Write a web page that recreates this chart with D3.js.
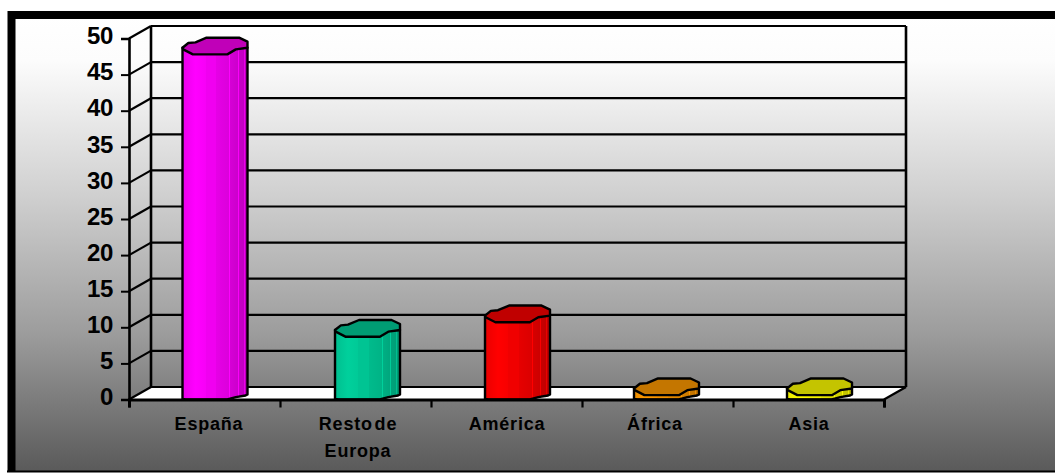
<!DOCTYPE html>
<html><head><meta charset="utf-8">
<script src="https://cdn.jsdelivr.net/npm/d3@7"></script>
<style>html,body{margin:0;padding:0;background:#fff}svg{display:block}text{font-family:"Liberation Sans",Arial,sans-serif;font-weight:bold;fill:#000}</style>
</head><body><div id="c"></div>
<script>
const categories = ["España", "Resto de|Europa", "América", "África", "Asia"];
const values = [47.8, 8.7, 10.7, 0.6, 0.6];
const sideColors = ["#ff00ff", "#00d09c", "#ff0000", "#ff9900", "#ffff00"];
const topColors = ["#c000b8", "#009c74", "#c00000", "#c47600", "#c4c400"];
const yTicks = d3.range(0, 51, 5);

const W = 1055, H = 473;
const depthX = 22, depthY = 12.5;
const barW = 65, capH = 16.7;
const labelNudge = [4.5, 2.5, 0.5, -2.5, 0.5];
const barNudge = [0, 1.5, 0.5, -1.5, 0.5];
const svg = d3.select("#c").append("svg").attr("width", W).attr("height", H);
const defs = svg.append("defs");

const bg = defs.append("linearGradient").attr("id", "bg").attr("x1", 0).attr("y1", 0).attr("x2", 0).attr("y2", 1);
[[0, "#ffffff"], [0.1, "#fcfcfc"], [0.4, "#cfcfcf"], [0.7, "#9c9c9c"], [1, "#5a5a5a"]].forEach(s =>
  bg.append("stop").attr("offset", s[0]).attr("stop-color", s[1]));

const x = d3.scaleBand().domain(categories).range([129, 884]);
const y = d3.scaleLinear().domain([0, 50]).range([399.5, 38.5]);
const back = v => y(v) - depthY;

// background + frame
svg.append("rect").attr("x", 11).attr("y", 15).attr("width", W).attr("height", 456).attr("fill", "url(#bg)");
svg.append("path").attr("d", `M${W + 5},15H11.5V471`).attr("fill", "none").attr("stroke", "#000").attr("stroke-width", 8);
svg.append("path").attr("d", `M7,471.5H${W}`).attr("fill", "none").attr("stroke", "#000").attr("stroke-width", 2);

// floor
const [x0, x1] = x.range();
svg.append("path").attr("fill", "#fff")
  .attr("d", `M${x0},${y(0)}L${x0 + depthX},${back(0)}H${x1 + depthX}L${x1},${y(0)}Z`);

// gridlines and walls
const g = svg.append("g").attr("stroke", "#000").attr("stroke-width", 2.2).attr("fill", "none");
g.selectAll("line.h").data(yTicks).join("line").attr("class", "h")
  .attr("x1", x0 + depthX).attr("x2", x1 + depthX).attr("y1", back).attr("y2", back);
g.selectAll("line.d").data(yTicks).join("line").attr("class", "d")
  .attr("x1", x0).attr("x2", x0 + depthX).attr("y1", d => y(d)).attr("y2", back);
g.append("line").attr("x1", x0 + depthX).attr("x2", x0 + depthX).attr("y1", back(0)).attr("y2", back(50)).attr("stroke-width", 2.6);
g.append("line").attr("x1", x1 + depthX).attr("x2", x1 + depthX).attr("y1", back(0)).attr("y2", back(50)).attr("stroke-width", 2.6);
g.append("line").attr("x1", x1).attr("x2", x1 + depthX).attr("y1", y(0)).attr("y2", back(0));

// bars
const capShape = [[0,.6],[.09,.32],[.2,.28],[.37,0],[.87,0],[1,.24],[1,.6],[.82,.7],[.69,1],[.16,1],[.01,.7]];
const baseShape = [[0,.97],[.05,1],[.69,1],[.82,.86],[.97,.76],[1,.7]];
const shades = [[0,.86],[.03,.93],[.2,1],[.36,.97],[.36,.94],[.52,.94],[.52,.9],[.72,.86],[.72,1],[.735,1],[.735,.84],[.85,.8],[.85,.98],[.865,.98],[.865,.78],[.945,.76],[.945,.92],[.96,.92],[.96,.74],[1,.7]];
const shade = (c, k) => { const r = d3.rgb(c); return d3.rgb(r.r * k, r.g * k, r.b * k).formatHex(); };

const bars = svg.append("g").selectAll("g").data(categories).join("g");
bars.each(function (cat, i) {
  const id = "bar" + i;
  const grad = defs.append("linearGradient").attr("id", id);
  shades.forEach(s => grad.append("stop").attr("offset", s[0]).attr("stop-color", shade(sideColors[i], s[1])));
  const left = x(cat) + x.bandwidth() / 2 - barW / 2 + 10.5 + barNudge[i];
  const frontY = y(values[i]);
  const capTop = frontY - capH;
  const baseTop = y(0) - capH;
  const P = (s, top) => s.map(p => [left + p[0] * barW, top + p[1] * capH]);
  const el = d3.select(this);
  const line = d3.line();
  const capPts = P(capShape, capTop);
  const sidePts = [capPts[0], ...P(baseShape, baseTop), capPts[6]];
  el.append("path").attr("d", line(sidePts) + "Z").attr("fill", `url(#${id})`)
    .attr("stroke", "#000").attr("stroke-width", 2.4).attr("stroke-linejoin", "round");
  el.append("path").attr("d", line(capPts) + "Z").attr("fill", topColors[i])
    .attr("stroke", "#000").attr("stroke-width", 2.4).attr("stroke-linejoin", "round");
});

// axes
const yAxis = svg.append("g").attr("transform", `translate(${x0},0)`)
  .call(d3.axisLeft(y).tickValues(yTicks).tickSize(8).tickPadding(8));
yAxis.select(".domain").attr("stroke", "#000").attr("stroke-width", 2.6);
yAxis.selectAll(".tick line").attr("stroke", "#000").attr("stroke-width", 2);
yAxis.selectAll("text").attr("font-size", 24).attr("font-family", null).attr("dy", "0.22em").style("letter-spacing", "-0.3px");

const edges = d3.scalePoint().domain(d3.range(categories.length + 1)).range(x.range());
const xTicks = svg.append("g").attr("transform", `translate(0,${y(0)})`)
  .call(d3.axisBottom(edges).tickSize(8).tickFormat(""));
xTicks.select(".domain").attr("stroke", "#000").attr("stroke-width", 3);
xTicks.selectAll(".tick line").attr("stroke", "#000").attr("stroke-width", 2.2);

const labels = svg.append("g").attr("font-size", 18).attr("text-anchor", "middle")
  .style("letter-spacing", "0.8px").style("word-spacing", "-4px");
labels.selectAll("text").data(categories).join("text")
  .attr("y", 430)
  .each(function (d, i) {
    const cx = x(d) + x.bandwidth() / 2 + labelNudge[i];
    d.split("|").forEach((t, k) => d3.select(this).append("tspan")
      .attr("x", cx).attr("dy", k ? 27 : 0).text(t));
  });
</script></body></html>
